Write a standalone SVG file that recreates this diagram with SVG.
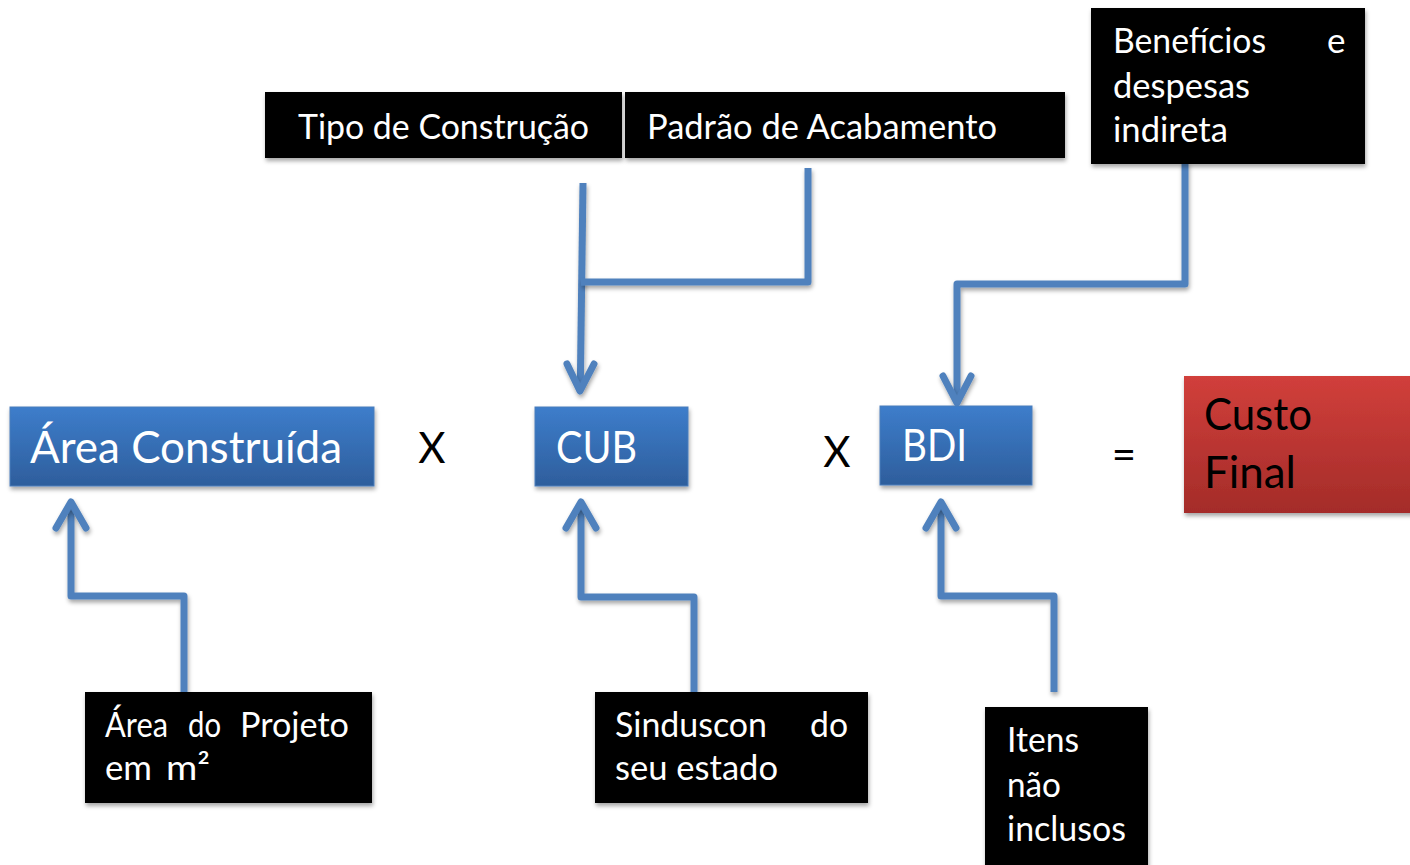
<svg xmlns="http://www.w3.org/2000/svg" width="1410" height="865" viewBox="0 0 1410 865">
<defs>
<linearGradient id="gBlue" x1="0" y1="0" x2="0" y2="1">
<stop offset="0" stop-color="#3d7dcb"/>
<stop offset="1" stop-color="#2e5e9c"/>
</linearGradient>
<linearGradient id="gRed" x1="0" y1="0" x2="0" y2="1">
<stop offset="0" stop-color="#d13f3b"/>
<stop offset="1" stop-color="#a42c29"/>
</linearGradient>
<filter id="sh" filterUnits="userSpaceOnUse" x="0" y="0" width="1410" height="865">
<feDropShadow dx="1" dy="3" stdDeviation="2" flood-color="#000" flood-opacity="0.35"/>
</filter>
</defs>
<style>
.t{font-family:"Lato","Open Sans","Liberation Sans",sans-serif;}
.w{fill:#fff;}
.k{fill:#000;}
.blk{fill:#000;filter:url(#sh);}
.blu{fill:url(#gBlue);stroke:#4a7ebb;stroke-width:1;filter:url(#sh);}
.red{fill:url(#gRed);filter:url(#sh);}
.c{fill:none;stroke:#4f81bd;stroke-width:7;stroke-linejoin:round;stroke-linecap:butt;filter:url(#sh);}
.ah{fill:none;stroke:#4f81bd;stroke-width:7;stroke-linejoin:round;stroke-linecap:round;filter:url(#sh);}
.s36{font-size:35px;}
.s46{font-size:45px;}
</style>
<rect width="1410" height="865" fill="#fff"/>

<g id="connectors">
<path class="c" d="M583,183 L580.3,386"/>
<path class="c" d="M808,168 L808,282 L581,282"/>
<path class="ah" d="M567,364 L580,391 L594,364"/>
<path class="c" d="M1185,162 L1185,284 L957,284 L957,399"/>
<path class="ah" d="M943,376 L957,403 L971,376"/>
<path class="c" d="M184,692 L184,596 L71,596 L71,506"/>
<path class="ah" d="M56,528 L71,502 L86,528"/>
<path class="c" d="M694,692 L694,597 L581,597 L581,506"/>
<path class="ah" d="M566,528 L581,502 L596,528"/>
<path class="c" d="M1054,692 L1054,596 L941,596 L941,506"/>
<path class="ah" d="M926,528 L941,502 L956,528"/>
</g>

<g id="tipo">
<rect class="blk" x="265" y="92" width="357" height="66"/>
<text class="t w s36" x="298" y="139" textLength="291" lengthAdjust="spacingAndGlyphs">Tipo de Construção</text>
</g>
<g id="padrao">
<rect class="blk" x="625" y="92" width="440" height="66"/>
<text class="t w s36" x="647" y="139" textLength="350" lengthAdjust="spacingAndGlyphs">Padrão de Acabamento</text>
</g>
<g id="beneficios">
<rect class="blk" x="1091" y="8" width="274" height="156"/>
<text class="t w s36" x="1113" y="53" textLength="153" lengthAdjust="spacingAndGlyphs">Benefícios</text>
<text class="t w s36" x="1327" y="53">e</text>
<text class="t w s36" x="1113" y="98" textLength="137" lengthAdjust="spacingAndGlyphs">despesas</text>
<text class="t w s36" x="1113" y="142" textLength="115" lengthAdjust="spacingAndGlyphs">indireta</text>
</g>

<g id="area">
<rect class="blu" x="10" y="407" width="364" height="79"/>
<text class="t w s46" x="30" y="463" textLength="312" lengthAdjust="spacingAndGlyphs">Área Construída</text>
</g>
<g id="cub">
<rect class="blu" x="535" y="407" width="153" height="79"/>
<text class="t w s46" x="556" y="463" textLength="81" lengthAdjust="spacingAndGlyphs">CUB</text>
</g>
<g id="bdi">
<rect class="blu" x="880" y="406" width="152" height="79"/>
<text class="t w s46" x="902" y="461" textLength="65" lengthAdjust="spacingAndGlyphs">BDI</text>
</g>
<g id="custo">
<rect class="red" x="1184" y="376" width="230" height="137"/>
<text class="t k s46" x="1204" y="430" textLength="108" lengthAdjust="spacingAndGlyphs">Custo</text>
<text class="t k s46" x="1204" y="488" textLength="92" lengthAdjust="spacingAndGlyphs">Final</text>
</g>

<g id="ops">
<text class="t k" font-size="42" x="432" y="463" text-anchor="middle">X</text>
<text class="t k" font-size="42" x="837" y="467" text-anchor="middle">X</text>
<text class="t k" font-size="42" x="1124" y="469" text-anchor="middle">=</text>
</g>

<g id="projeto">
<rect class="blk" x="85" y="692" width="287" height="111"/>
<text class="t w s36" x="105" y="737" textLength="63" lengthAdjust="spacingAndGlyphs">Área</text>
<text class="t w s36" x="188" y="737" textLength="33" lengthAdjust="spacingAndGlyphs">do</text>
<text class="t w s36" x="240" y="737" textLength="109" lengthAdjust="spacingAndGlyphs">Projeto</text>
<text class="t w s36" x="105" y="780" textLength="47" lengthAdjust="spacingAndGlyphs">em</text>
<text class="t w s36" x="166" y="780" textLength="44" lengthAdjust="spacingAndGlyphs">m²</text>
</g>
<g id="sinduscon">
<rect class="blk" x="595" y="692" width="273" height="111"/>
<text class="t w s36" x="615" y="737" textLength="152" lengthAdjust="spacingAndGlyphs">Sinduscon</text>
<text class="t w s36" x="810" y="737" textLength="38" lengthAdjust="spacingAndGlyphs">do</text>
<text class="t w s36" x="615" y="780" textLength="163" lengthAdjust="spacingAndGlyphs">seu estado</text>
</g>
<g id="itens">
<rect class="blk" x="985" y="707" width="163" height="165"/>
<text class="t w s36" x="1007" y="752" textLength="72" lengthAdjust="spacingAndGlyphs">Itens</text>
<text class="t w s36" x="1007" y="797" textLength="54" lengthAdjust="spacingAndGlyphs">não</text>
<text class="t w s36" x="1007" y="841" textLength="119" lengthAdjust="spacingAndGlyphs">inclusos</text>
</g>
</svg>
